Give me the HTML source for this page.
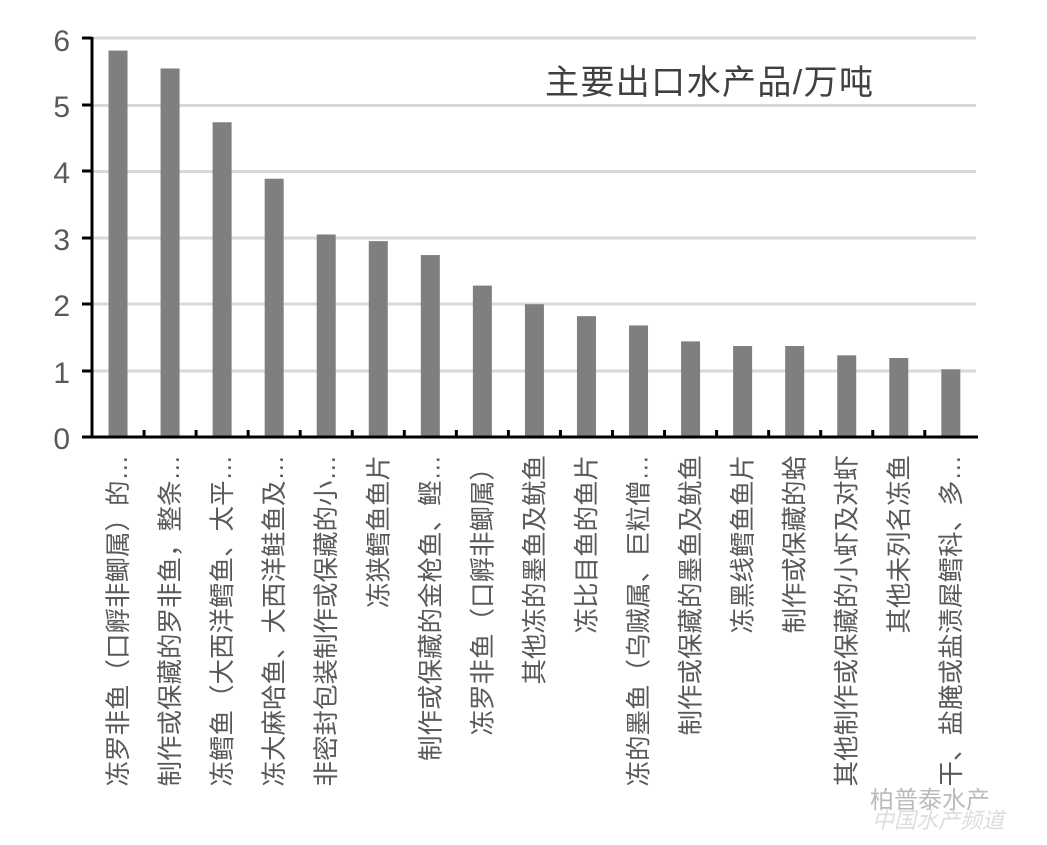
<!DOCTYPE html>
<html><head><meta charset="utf-8"><style>
body{margin:0;background:#fff;}
svg text{font-family:"Liberation Sans","Noto Sans CJK SC",sans-serif;}
</style></head><body>
<svg width="1047" height="840" xmlns="http://www.w3.org/2000/svg">
<g stroke="#d9d9d9" stroke-width="3">
<line x1="93" x2="976" y1="38" y2="38"/>
<line x1="93" x2="976" y1="105.5" y2="105.5"/>
<line x1="93" x2="976" y1="171.5" y2="171.5"/>
<line x1="93" x2="976" y1="238" y2="238"/>
<line x1="93" x2="976" y1="304" y2="304"/>
<line x1="93" x2="976" y1="371" y2="371"/>
</g>
<g fill="#7f7f7f" id="bars"></g>
<g stroke="#000" stroke-width="3">
<line x1="92" x2="92" y1="37" y2="438"/>
<line x1="82" x2="978" y1="437" y2="437"/>
<line x1="82" x2="92" y1="38" y2="38"/>
<line x1="82" x2="92" y1="105" y2="105"/>
<line x1="82" x2="92" y1="171" y2="171"/>
<line x1="82" x2="92" y1="238" y2="238"/>
<line x1="82" x2="92" y1="304" y2="304"/>
<line x1="82" x2="92" y1="371" y2="371"/>
</g>
<g stroke="#000" stroke-width="3" id="xt"></g>
<g fill="#595959" font-size="30" text-anchor="end">
<text x="70" y="51">6</text><text x="70" y="117">5</text><text x="70" y="183">4</text>
<text x="70" y="250">3</text><text x="70" y="316">2</text><text x="70" y="383">1</text>
<text x="70" y="449">0</text>
</g>
<text x="545" y="94" font-size="34" fill="#404040" textLength="328">主要出口水产品/万吨</text>
<g id="labels" fill="#595959" font-size="25.5" text-anchor="end"></g>
<text x="870" y="808" font-size="24" fill="#bbb">柏普泰水产</text>
<text x="872" y="828" font-size="22" fill="#ddd" font-style="italic">中国水产频道</text>
<script>
var v=[5.82,5.55,4.74,3.89,3.05,2.95,2.74,2.28,2.0,1.82,1.68,1.44,1.37,1.37,1.23,1.19,1.02];
var L=["冻罗非鱼（口孵非鲫属）的…","制作或保藏的罗非鱼，整条…","冻鳕鱼（大西洋鳕鱼、太平…","冻大麻哈鱼、大西洋鲑鱼及…","非密封包装制作或保藏的小…","冻狭鳕鱼鱼片","制作或保藏的金枪鱼、鲣…","冻罗非鱼（口孵非鲫属）","其他冻的墨鱼及鱿鱼","冻比目鱼的鱼片","冻的墨鱼（乌贼属、巨粒僧…","制作或保藏的墨鱼及鱿鱼","冻黑线鳕鱼鱼片","制作或保藏的蛤","其他制作或保藏的小虾及对虾","其他未列名冻鱼","干、盐腌或盐渍犀鳕科、多…"];
var ns="http://www.w3.org/2000/svg",b=document.getElementById("bars"),lb=document.getElementById("labels"),xt=document.getElementById("xt");
var step=52.05,x0=92;
for(var i=0;i<17;i++){
 var c=x0+step*(i+0.5);var h=v[i]*66.4;
 var r=document.createElementNS(ns,"rect");r.setAttribute("x",c-9.5);r.setAttribute("width",19);r.setAttribute("y",437-h);r.setAttribute("height",h);b.appendChild(r);
 var t=document.createElementNS(ns,"text");t.setAttribute("transform","translate("+(c+9)+",455) rotate(-90)");t.textContent=L[i];lb.appendChild(t);
 if(i>0){var l=document.createElementNS(ns,"line");var xx=x0+step*i;l.setAttribute("x1",xx);l.setAttribute("x2",xx);l.setAttribute("y1",430);l.setAttribute("y2",437);xt.appendChild(l);}
}
</script>
</svg>
</body></html>
